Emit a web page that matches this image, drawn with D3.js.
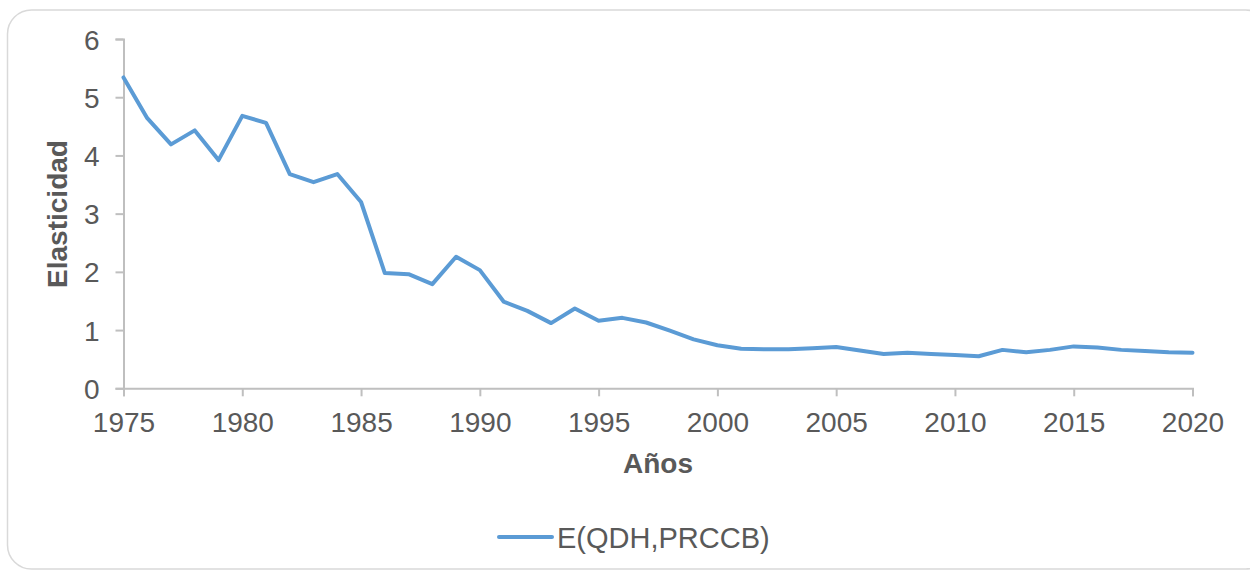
<!DOCTYPE html>
<html>
<head>
<meta charset="utf-8">
<script src="https://cdn.jsdelivr.net/npm/d3@7"></script>
<style>
  body { margin: 0; background: #fff; }
  svg { display: block; font-family: "Liberation Sans", Arial, sans-serif; }
</style>
</head>
<body>
<svg id="chart" width="1250" height="571"></svg>
<script>
// years on x axis
const years = d3.range(1975, 2021);
// elasticity E(QDH,PRCCB)
const elasticidad = [
    5.34, 4.64, 4.19, 4.43, 3.92, 4.68, 4.56, 3.68, 3.54, 3.68,
    3.20, 1.98, 1.96, 1.79, 2.26, 2.03, 1.49, 1.33, 1.12, 1.37,
    1.16, 1.21, 1.13, 0.99, 0.84, 0.74, 0.68, 0.67, 0.67, 0.69,
    0.71, 0.65, 0.59, 0.61, 0.59, 0.57, 0.55, 0.66, 0.62, 0.66,
    0.72, 0.70, 0.66, 0.64, 0.62, 0.61
];
const xTicks = [1975, 1980, 1985, 1990, 1995, 2000, 2005, 2010, 2015, 2020];
const yTicks = [0, 1, 2, 3, 4, 5, 6];
const seriesName = "E(QDH,PRCCB)";

const data = years.map((y, i) => ({ year: y, value: elasticidad[i] }));

const svg = d3.select('#chart');
const textColor = '#595959';
const axisColor = '#bfbfbf';
const lineColor = '#5b9bd5';

// chart frame
svg.append('rect')
    .attr('x', 7.5).attr('y', 10)
    .attr('width', 1262).attr('height', 559)
    .attr('rx', 24).attr('ry', 24)
    .attr('fill', '#fff')
    .attr('stroke', '#d9d9d9')
    .attr('stroke-width', 1.5);

const x = d3.scaleLinear().domain([1975, 2020]).range([123.5, 1192.5]);
const y = d3.scaleLinear().domain([0, 6]).range([388.3, 39]);

// y axis
const yAxis = svg.append('g')
    .attr('transform', 'translate(' + x(1975) + ',0)')
    .call(d3.axisLeft(y).tickValues(yTicks).tickSize(8).tickPadding(16).tickFormat(d3.format('d')));

// x axis
const xAxis = svg.append('g')
    .attr('transform', 'translate(0,' + y(0) + ')')
    .call(d3.axisBottom(x).tickValues(xTicks).tickSize(8).tickPadding(16).tickFormat(d3.format('d')));

[yAxis, xAxis].forEach(function(ax) {
    ax.select('.domain').attr('stroke', axisColor).attr('stroke-width', 2);
    ax.selectAll('.tick line').attr('stroke', axisColor).attr('stroke-width', 2);
    ax.selectAll('.tick text')
        .attr('fill', textColor)
        .style('font-size', '28px')
        .style('font-family', '"Liberation Sans", Arial, sans-serif');
});
yAxis.selectAll('.tick text').attr('dy', '0.36em');
xAxis.selectAll('.tick text').attr('dy', '0.72em');

// the line
const line = d3.line()
    .x(d => x(d.year))
    .y(d => y(d.value));

svg.append('path')
    .datum(data)
    .attr('d', line)
    .attr('fill', 'none')
    .attr('stroke', lineColor)
    .attr('stroke-width', 4)
    .attr('stroke-linejoin', 'round')
    .attr('stroke-linecap', 'round');

// axis titles
svg.append('text')
    .attr('transform', 'translate(67,214) rotate(-90)')
    .attr('text-anchor', 'middle')
    .attr('fill', textColor)
    .style('font-size', '28px')
    .style('font-weight', 'bold')
    .text('Elasticidad');

svg.append('text')
    .attr('x', 658).attr('y', 473)
    .attr('text-anchor', 'middle')
    .attr('fill', textColor)
    .style('font-size', '28px')
    .style('font-weight', 'bold')
    .text('Años');

// legend
svg.append('line')
    .attr('x1', 499).attr('x2', 552)
    .attr('y1', 537).attr('y2', 537)
    .attr('stroke', lineColor)
    .attr('stroke-width', 4)
    .attr('stroke-linecap', 'round');

svg.append('text')
    .attr('x', 557).attr('y', 548)
    .attr('fill', textColor)
    .style('font-size', '29px')
    .text(seriesName);
</script>
</body>
</html>
